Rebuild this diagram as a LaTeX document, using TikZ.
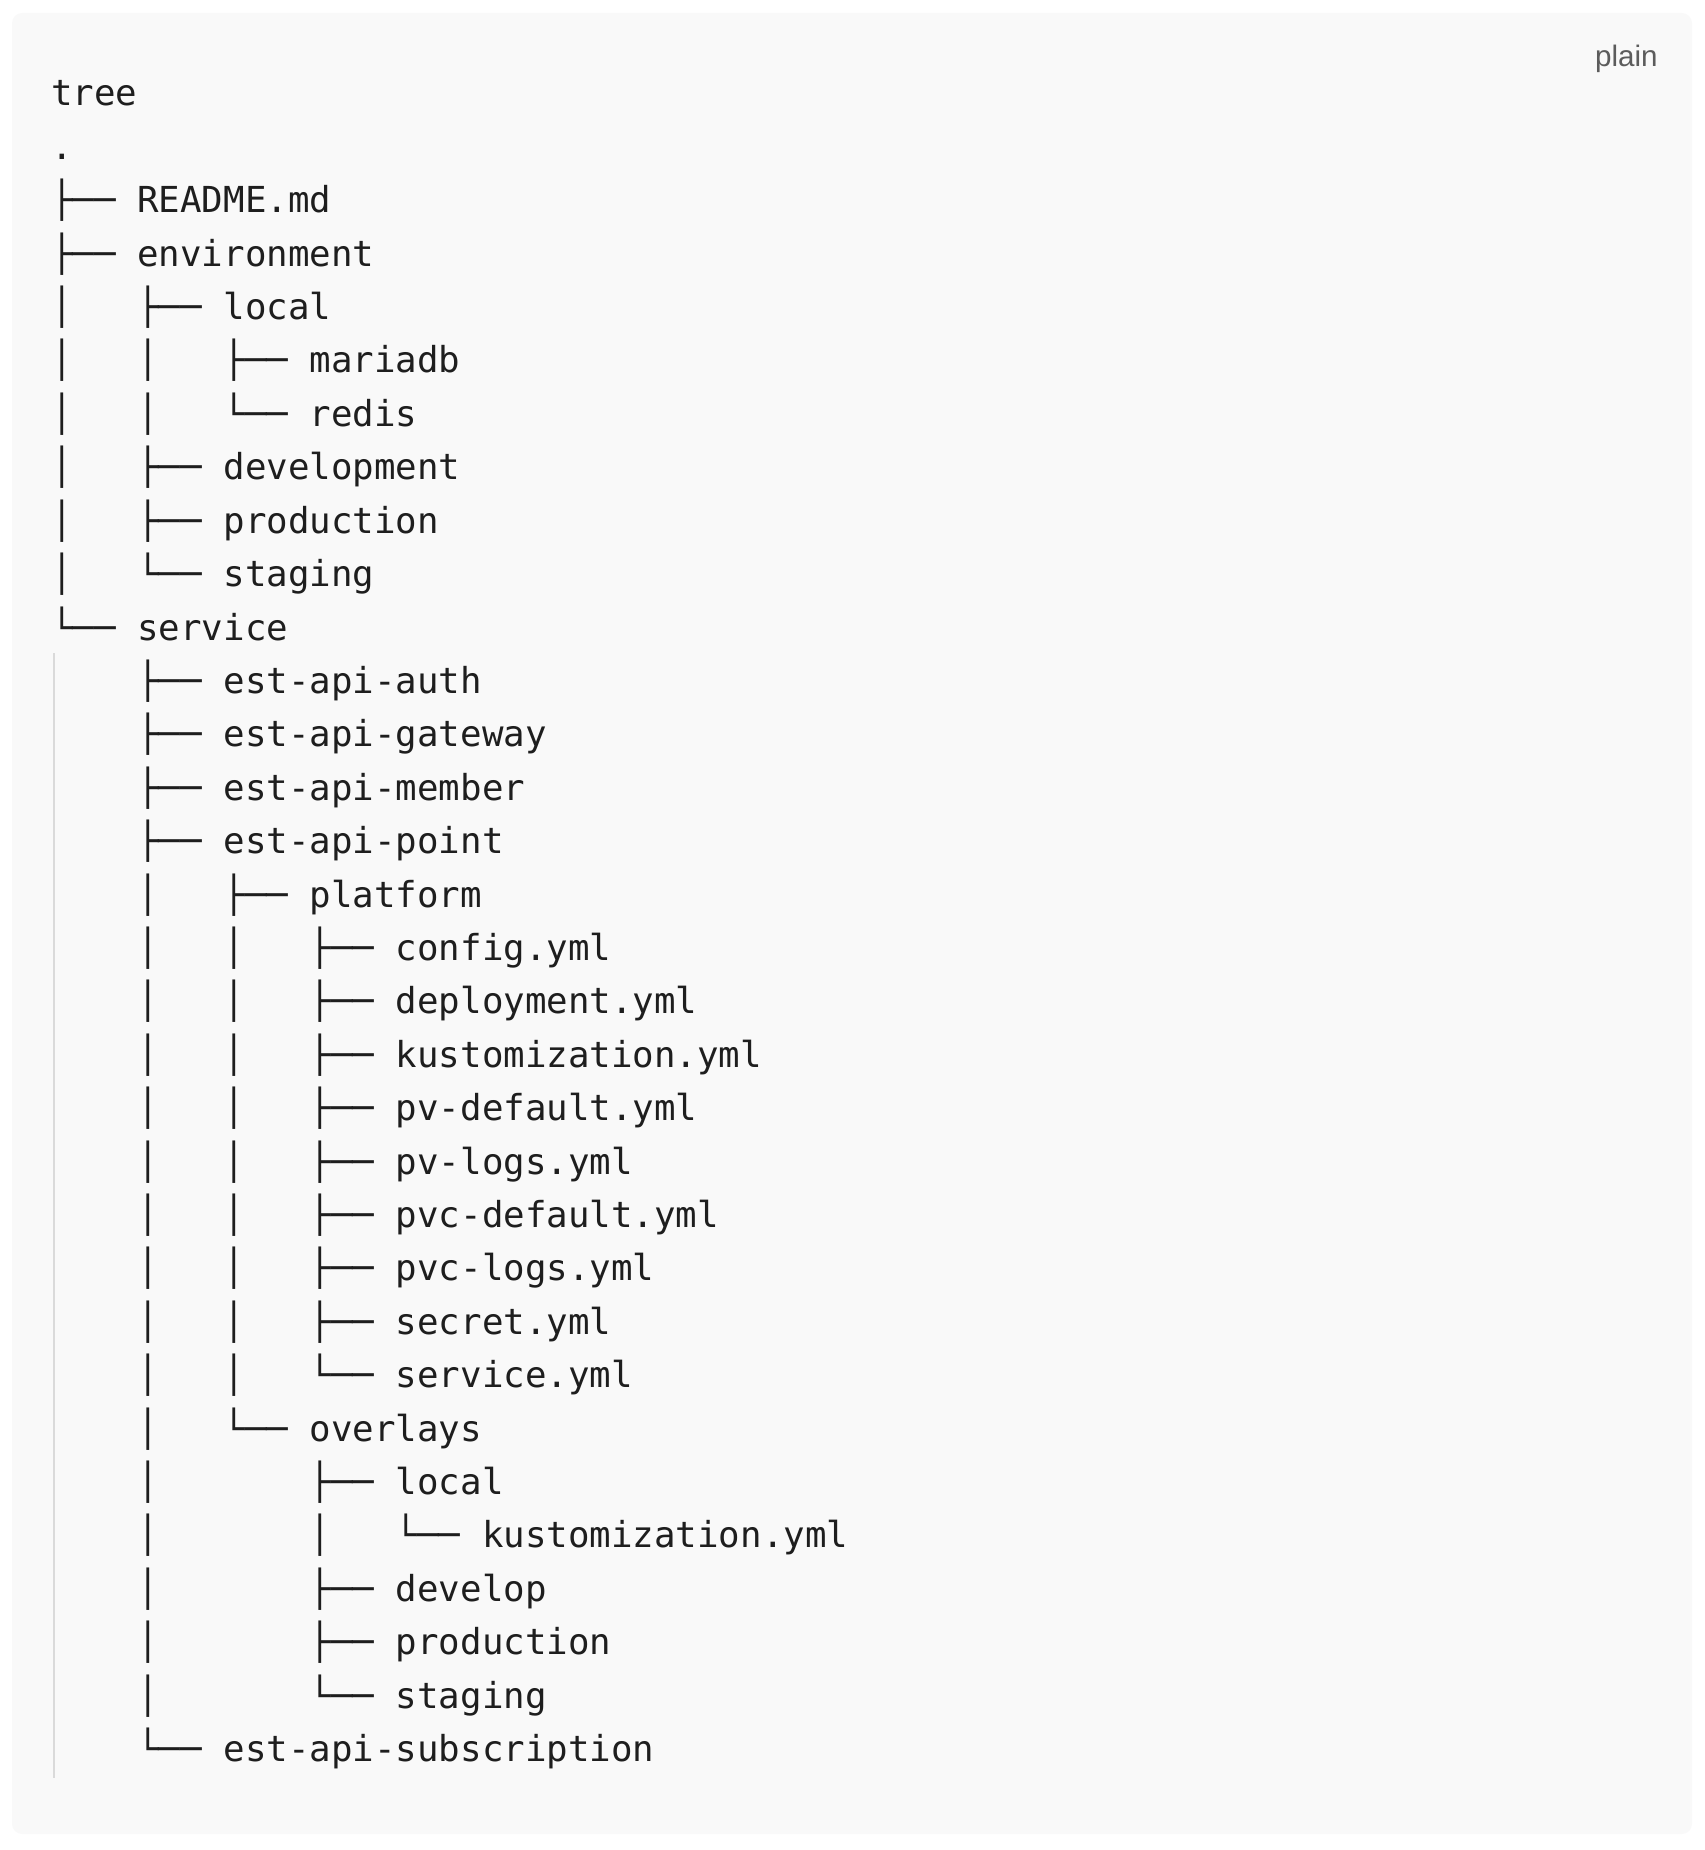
\documentclass[tikz,border=0pt]{standalone}
\usepackage{fontspec}
\setmainfont{Liberation Sans}
\setmonofont{DejaVu Sans Mono}
\definecolor{codebg}{RGB}{249,249,249}
\definecolor{codeink}{RGB}{30,30,30}
\definecolor{guidegray}{RGB}{218,218,218}
\definecolor{langgray}{RGB}{92,92,92}
\tikzset{
	treeline/.style={anchor=base west, inner sep=0pt, text=codeink, font=\ttfamily\fontsize{17.89}{26.7}\selectfont},
	langtag/.style={anchor=base east, inner sep=0pt, text=langgray, font=\fontsize{14.8}{18}\selectfont}
}

\begin{document}
\begin{tikzpicture}[x=0.5pt, y=-0.5pt]
		%%%%% START %%%%%
		
		\useasboundingbox (0, 0) rectangle (1704, 1850);
		\fill[codebg, rounded corners=5pt] (12, 13) rectangle (1692, 1834);
		
		\node[langtag] (lang) at (1658, 67) {plain};
		
		\draw[guidegray, line width=0.75pt] (54, 653) -- (54, 1778);
		
		\node[treeline] (cmd) at (50.8, 106) {tree};
		\node[treeline] (root) at (50.8, 159.4) {.};
		\node[treeline] (readme) at (50.8, 212.8) {├──~README.md};
		\node[treeline] (env) at (50.8, 266.2) {├──~environment};
		\node[treeline] (envlocal) at (50.8, 319.6) {│~~~├──~local};
		\node[treeline] (mariadb) at (50.8, 373) {│~~~│~~~├──~mariadb};
		\node[treeline] (redis) at (50.8, 426.4) {│~~~│~~~└──~redis};
		\node[treeline] (envdev) at (50.8, 479.8) {│~~~├──~development};
		\node[treeline] (envprod) at (50.8, 533.2) {│~~~├──~production};
		\node[treeline] (envstag) at (50.8, 586.6) {│~~~└──~staging};
		\node[treeline] (service) at (50.8, 640) {└──~service};
		\node[treeline] (auth) at (50.8, 693.4) {~~~~├──~est-api-auth};
		\node[treeline] (gateway) at (50.8, 746.8) {~~~~├──~est-api-gateway};
		\node[treeline] (member) at (50.8, 800.2) {~~~~├──~est-api-member};
		\node[treeline] (point) at (50.8, 853.6) {~~~~├──~est-api-point};
		\node[treeline] (platform) at (50.8, 907) {~~~~│~~~├──~platform};
		\node[treeline] (config) at (50.8, 960.4) {~~~~│~~~│~~~├──~config.yml};
		\node[treeline] (deploy) at (50.8, 1013.8) {~~~~│~~~│~~~├──~deployment.yml};
		\node[treeline] (kustom) at (50.8, 1067.2) {~~~~│~~~│~~~├──~kustomization.yml};
		\node[treeline] (pvdef) at (50.8, 1120.6) {~~~~│~~~│~~~├──~pv-default.yml};
		\node[treeline] (pvlogs) at (50.8, 1174) {~~~~│~~~│~~~├──~pv-logs.yml};
		\node[treeline] (pvcdef) at (50.8, 1227.4) {~~~~│~~~│~~~├──~pvc-default.yml};
		\node[treeline] (pvclogs) at (50.8, 1280.8) {~~~~│~~~│~~~├──~pvc-logs.yml};
		\node[treeline] (secret) at (50.8, 1334.2) {~~~~│~~~│~~~├──~secret.yml};
		\node[treeline] (svcyml) at (50.8, 1387.6) {~~~~│~~~│~~~└──~service.yml};
		\node[treeline] (overlays) at (50.8, 1441) {~~~~│~~~└──~overlays};
		\node[treeline] (ovlocal) at (50.8, 1494.4) {~~~~│~~~~~~~├──~local};
		\node[treeline] (ovkustom) at (50.8, 1547.8) {~~~~│~~~~~~~│~~~└──~kustomization.yml};
		\node[treeline] (ovdev) at (50.8, 1601.2) {~~~~│~~~~~~~├──~develop};
		\node[treeline] (ovprod) at (50.8, 1654.6) {~~~~│~~~~~~~├──~production};
		\node[treeline] (ovstag) at (50.8, 1708) {~~~~│~~~~~~~└──~staging};
		\node[treeline] (subscr) at (50.8, 1761.4) {~~~~└──~est-api-subscription};
		
		%%%%% END %%%%%
	\end{tikzpicture}
\end{document}
